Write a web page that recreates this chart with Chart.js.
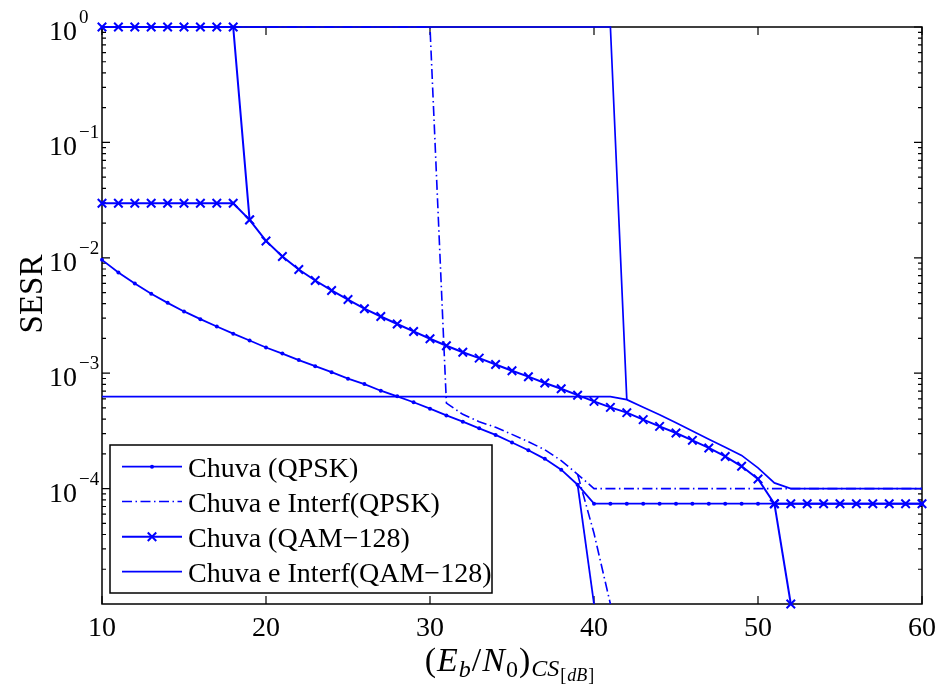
<!DOCTYPE html>
<html>
<head>
<meta charset="utf-8">
<script src="https://cdn.jsdelivr.net/npm/chart.js@4.4.1/dist/chart.umd.min.js"></script>
<style>
  body { margin: 0; background: #fff; }
  #wrap { width: 940px; height: 686px; }
</style>
</head>
<body>
<div id="wrap"><canvas id="sesrChart" width="940" height="686"></canvas></div>
<script>
// Eb/N0 (dB) grid
const ebn0 = [10, 11, 12, 13, 14, 15, 16, 17, 18, 19,
              20, 21, 22, 23, 24, 25, 26, 27, 28, 29,
              30, 31, 32, 33, 34, 35, 36, 37, 38, 39,
              40, 41, 42, 43, 44, 45, 46, 47, 48, 49,
              50, 51, 52, 53, 54, 55, 56, 57, 58, 59, 60];

// Chuva (QPSK)
const qpskRain = [9.6e-3, 7.46e-3, 6.0e-3, 4.88e-3, 4.07e-3, 3.43e-3, 2.94e-3, 2.54e-3, 2.2e-3, 1.92e-3,
                  1.67e-3, 1.48e-3, 1.3e-3, 1.15e-3, 1.02e-3, 8.96e-4, 8.05e-4, 7.05e-4, 6.3e-4, 5.6e-4,
                  4.93e-4, 4.31e-4, 3.8e-4, 3.33e-4, 2.92e-4, 2.51e-4, 2.15e-4, 1.81e-4, 1.46e-4, 1.08e-4,
                  7.4e-5, 7.4e-5, 7.4e-5, 7.4e-5, 7.4e-5, 7.4e-5, 7.4e-5, 7.4e-5, 7.4e-5, 7.4e-5,
                  7.4e-5, 7.4e-5, 7.4e-5, 7.4e-5, 7.4e-5, 7.4e-5, 7.4e-5, 7.4e-5, 7.4e-5, 7.4e-5, 7.4e-5];
const qpskRainCutX = [39, 40];
const qpskRainCutY = [1.08e-4, 1e-5];

// Chuva e Interf (QPSK)
const qpskInterfX = [10, 30, 31, 32, 33, 34, 35, 36, 37, 38, 39, 40, 60];
const qpskInterfY = [1, 1, 5.5e-4, 4.4e-4, 3.8e-4, 3.4e-4, 2.95e-4, 2.55e-4, 2.17e-4, 1.75e-4, 1.33e-4, 1.0e-4, 1.0e-4];
const qpskInterfCutX = [39, 40, 41];
const qpskInterfCutY = [1.33e-4, 4.1e-5, 1e-5];

// Chuva (QAM-128)
const qamRain = [2.97e-2, 2.97e-2, 2.97e-2, 2.97e-2, 2.97e-2, 2.97e-2, 2.97e-2, 2.97e-2, 2.97e-2, 2.13e-2,
                 1.40e-2, 1.026e-2, 7.92e-3, 6.36e-3, 5.21e-3, 4.35e-3, 3.62e-3, 3.1e-3, 2.67e-3, 2.3e-3,
                 1.99e-3, 1.73e-3, 1.52e-3, 1.35e-3, 1.19e-3, 1.05e-3, 9.33e-4, 8.22e-4, 7.34e-4, 6.45e-4,
                 5.7e-4, 5.06e-4, 4.55e-4, 3.96e-4, 3.46e-4, 3.03e-4, 2.62e-4, 2.25e-4, 1.9e-4, 1.56e-4,
                 1.21e-4, 7.4e-5, 7.4e-5, 7.4e-5, 7.4e-5, 7.4e-5, 7.4e-5, 7.4e-5, 7.4e-5, 7.4e-5, 7.4e-5];
const qamRainTopX = [10, 11, 12, 13, 14, 15, 16, 17, 18, 19];
const qamRainTopY = [1, 1, 1, 1, 1, 1, 1, 1, 1, 2.13e-2];
const qamRainCutX = [51, 52];
const qamRainCutY = [7.4e-5, 1e-5];

// Chuva e Interf (QAM-128)
const qamInterfX = [10, 41, 42, 43, 44, 45, 46, 47, 48, 49, 50, 51, 52, 60];
const qamInterfY = [6.26e-4, 6.26e-4, 5.9e-4, 5.07e-4, 4.37e-4, 3.72e-4, 3.15e-4, 2.68e-4, 2.28e-4, 1.94e-4, 1.51e-4, 1.12e-4, 1.0e-4, 1.0e-4];
const qamInterfTopX = [10, 41, 42];
const qamInterfTopY = [1, 1, 5.9e-4];

const legendLabels = ['Chuva (QPSK)', 'Chuva e Interf(QPSK)', 'Chuva (QAM\u2212128)', 'Chuva e Interf(QAM\u2212128)'];

// axis ticks
const xTicks = [10, 20, 30, 40, 50, 60];
const yDecades = [0, -1, -2, -3, -4];
const yMinorDecades = [-5, -4, -3, -2, -1];
const yMinorSteps = [2, 3, 4, 5, 6, 7, 8, 9];

const BLUE = '#0000ff';
const FONT = '"Liberation Serif", "Times New Roman", serif';
const DASHDOT = [10, 3.5, 1.5, 3.5];

function pts(xs, ys) {
  return xs.map((x, i) => ({ x: x, y: ys[i] }));
}

const dotStyle = { pointStyle: 'circle', pointRadius: 2, pointBackgroundColor: BLUE, pointBorderColor: BLUE, pointBorderWidth: 0, borderWidth: 1.8 };
const crossStyle = { pointStyle: 'crossRot', pointRadius: 6, pointBorderColor: BLUE, pointBorderWidth: 2, borderWidth: 2 };
const dashStyle = { pointRadius: 0, borderWidth: 1.6, borderDash: DASHDOT };
const solidStyle = { pointRadius: 0, borderWidth: 1.7 };

function line(label, data, style) {
  return Object.assign({
    label: label,
    data: data,
    borderColor: BLUE,
    backgroundColor: BLUE,
    fill: false,
    tension: 0,
    clip: false
  }, style);
}

const datasets = [
  line(legendLabels[0], pts(ebn0, qpskRain), dotStyle),
  line(legendLabels[1], pts(qpskInterfX, qpskInterfY), dashStyle),
  line(legendLabels[2], pts(ebn0, qamRain), crossStyle),
  line(legendLabels[3], pts(qamInterfX, qamInterfY), solidStyle),
  line('', pts(qpskRainCutX, qpskRainCutY), Object.assign({}, solidStyle, { borderWidth: 1.8 })),
  line('', pts(qpskInterfCutX, qpskInterfCutY), dashStyle),
  line('', pts(qamRainTopX, qamRainTopY), crossStyle),
  line('', pts(qamRainCutX, qamRainCutY), crossStyle),
  line('', pts(qamInterfTopX, qamInterfTopY), solidStyle)
];

// box, inward ticks, tick labels and axis titles
const axesFrame = {
  id: 'axesFrame',
  beforeDatasetsDraw(chart) {
    const ctx = chart.ctx;
    const a = chart.chartArea;
    const xs = chart.scales.x, ys = chart.scales.y;
    ctx.save();
    ctx.strokeStyle = '#000';
    ctx.lineWidth = 1.5;
    ctx.strokeRect(a.left, a.top, a.right - a.left, a.bottom - a.top);

    ctx.lineWidth = 1.2;
    ctx.beginPath();
    xTicks.forEach(v => {
      const px = xs.getPixelForValue(v);
      ctx.moveTo(px, a.bottom); ctx.lineTo(px, a.bottom - 8);
      ctx.moveTo(px, a.top); ctx.lineTo(px, a.top + 8);
    });
    yDecades.forEach(e => {
      const py = ys.getPixelForValue(Math.pow(10, e));
      ctx.moveTo(a.left, py); ctx.lineTo(a.left + 8, py);
      ctx.moveTo(a.right, py); ctx.lineTo(a.right - 8, py);
    });
    yMinorDecades.forEach(e => {
      yMinorSteps.forEach(m => {
        const py = ys.getPixelForValue(m * Math.pow(10, e));
        ctx.moveTo(a.left, py); ctx.lineTo(a.left + 4, py);
        ctx.moveTo(a.right, py); ctx.lineTo(a.right - 4, py);
      });
    });
    ctx.stroke();

    ctx.fillStyle = '#000';
    ctx.font = '28px ' + FONT;
    ctx.textAlign = 'center';
    ctx.textBaseline = 'alphabetic';
    xTicks.forEach(v => {
      ctx.fillText(String(v), xs.getPixelForValue(v), a.bottom + 32);
    });

    yDecades.forEach(e => {
      const py = ys.getPixelForValue(Math.pow(10, e));
      ctx.font = '28px ' + FONT;
      ctx.textAlign = 'right';
      ctx.fillText('10', 77, py + 13);
      ctx.font = '19px ' + FONT;
      ctx.textAlign = 'left';
      ctx.fillText(e === 0 ? '0' : '\u2212' + (-e), 79, py - 4);
    });

    // y title
    ctx.save();
    ctx.translate(42, 294);
    ctx.rotate(-Math.PI / 2);
    ctx.font = '33px ' + FONT;
    ctx.textAlign = 'center';
    ctx.fillText('SESR', 0, 0);
    ctx.restore();

    // x title: (E_b/N_0)_{CS_[dB]}
    const big = '34px ', sub = '24px ', sub2 = '18px ';
    const parts = [
      ['(', big, 0], ['E', 'italic ' + big, 0], ['b', 'italic ' + sub, 6],
      ['/', big, 0], ['N', 'italic ' + big, 0], ['0', sub, 6], [')', big, 0],
      ['CS', 'italic ' + sub, 5], ['[', sub2, 10], ['dB', 'italic ' + sub2, 10], [']', sub2, 10]
    ];
    let total = 0;
    parts.forEach(p => { ctx.font = p[1] + FONT; total += ctx.measureText(p[0]).width + 1; });
    let cx = 510 - total / 2;
    const base = 671;
    ctx.textAlign = 'left';
    parts.forEach(p => {
      ctx.font = p[1] + FONT;
      ctx.fillText(p[0], cx, base + p[2]);
      cx += ctx.measureText(p[0]).width + 1;
    });
    ctx.restore();
  }
};

// legend box in the lower-left corner of the plot
const legendBox = {
  id: 'legendBox',
  afterDatasetsDraw(chart) {
    const ctx = chart.ctx;
    const bx = 110, by = 445, bw = 382, bh = 148;
    const rows = [466.7, 501.5, 536.7, 571.7];
    ctx.save();
    ctx.fillStyle = '#fff';
    ctx.fillRect(bx, by, bw, bh);
    ctx.strokeStyle = '#000';
    ctx.lineWidth = 1.5;
    ctx.strokeRect(bx, by, bw, bh);

    chart.data.datasets.filter(d => d.label).forEach((d, i) => {
      const y = rows[i];
      ctx.strokeStyle = d.borderColor;
      ctx.lineWidth = d.borderWidth;
      ctx.setLineDash(d.borderDash || []);
      ctx.beginPath();
      ctx.moveTo(122, y); ctx.lineTo(182, y);
      ctx.stroke();
      ctx.setLineDash([]);
      if (d.pointStyle === 'circle') {
        ctx.fillStyle = BLUE;
        ctx.beginPath();
        ctx.arc(152, y, d.pointRadius, 0, Math.PI * 2);
        ctx.fill();
      } else if (d.pointStyle === 'crossRot') {
        const r = d.pointRadius * Math.SQRT1_2;
        ctx.lineWidth = d.pointBorderWidth;
        ctx.beginPath();
        ctx.moveTo(152 - r, y - r); ctx.lineTo(152 + r, y + r);
        ctx.moveTo(152 - r, y + r); ctx.lineTo(152 + r, y - r);
        ctx.stroke();
      }
      ctx.fillStyle = '#000';
      ctx.font = '28px ' + FONT;
      ctx.textAlign = 'left';
      ctx.textBaseline = 'alphabetic';
      ctx.fillText(d.label, 188, y + 10);
    });
    ctx.restore();
  }
};

new Chart(document.getElementById('sesrChart'), {
  type: 'line',
  data: { datasets: datasets },
  options: {
    responsive: false,
    devicePixelRatio: 1,
    animation: false,
    layout: { padding: { left: 102, right: 18, top: 27, bottom: 82 } },
    scales: {
      x: { type: 'linear', min: 10, max: 60, display: false },
      y: { type: 'logarithmic', min: 1e-5, max: 1, display: false }
    },
    plugins: {
      legend: { display: false },
      tooltip: { enabled: false }
    }
  },
  plugins: [axesFrame, legendBox]
});
</script>
</body>
</html>
